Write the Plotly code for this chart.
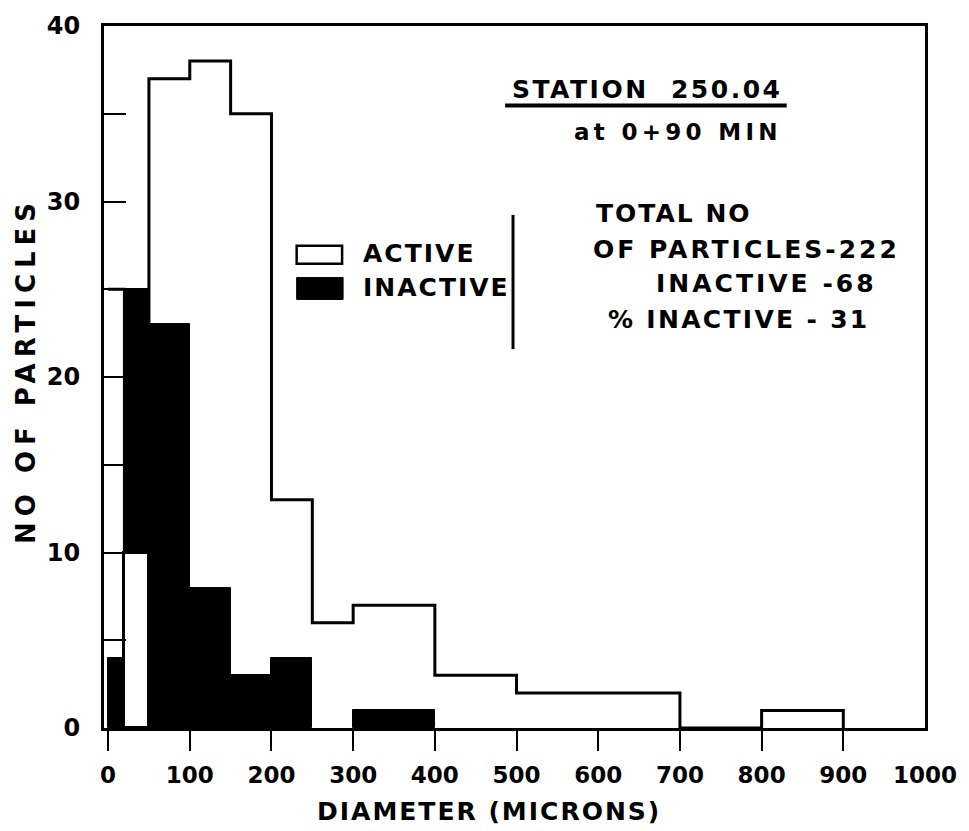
import plotly.graph_objects as go

# ---- data ----
bin_edges = [0, 20, 50, 100, 150, 200, 250, 300, 400, 500, 700, 800, 900]
active = [25, 10, 37, 38, 35, 13, 6, 7, 3, 2, 0, 1]
inactive = [4, 25, 23, 8, 3, 4, 0, 1, 0, 0, 0, 0]
x_tick_vals = [0, 100, 200, 300, 400, 500, 600, 700, 800, 900, 1000]
x_tick_text = ["0", "100", "200", "300", "400", "500", "600", "700", "800", "900", "1000"]
x_tick_marks = [0, 100, 200, 300, 400, 500, 600, 700, 800, 900]
y_tick_vals = [0, 10, 20, 30, 40]
y_tick_text = ["0", "10", "20", "30", "40"]
legend_names = ["ACTIVE", "INACTIVE"]
station_title = "STATION  250.04"
station_sub = "at 0+90 MIN"
stats_lines = ["TOTAL NO", "OF PARTICLES-222", "INACTIVE -68", "% INACTIVE - 31"]
x_title = "DIAMETER (MICRONS)"
y_title = "NO OF PARTICLES"

# ---- layout geometry ----
W, H = 969, 831
ML, MR, MT, MB = 104, 34, 22, 103
PW, PH = W - ML - MR, H - MT - MB
FONT = "DejaVu Sans"


def px(x):
    return (x - ML) / PW


def py(y):
    return (H - MB - y) / PH


centers = [(a + b) / 2 for a, b in zip(bin_edges[:-1], bin_edges[1:])]
widths = [b - a for a, b in zip(bin_edges[:-1], bin_edges[1:])]

fig = go.Figure()

# inactive bars (solid black)
ic = [c for c, v in zip(centers, inactive) if v > 0]
iw = [w for w, v in zip(widths, inactive) if v > 0]
iv = [v for v in inactive if v > 0]
fig.add_trace(go.Bar(x=ic, y=iv, width=iw, marker=dict(color="black", line=dict(color="black", width=1)),
                     showlegend=False, hoverinfo="skip"))

# active bars shorter than the inactive ones are drawn in front of them
fc = [c for c, a, i in zip(centers, active, inactive) if 0 < a < i]
fw = [w for w, a, i in zip(widths, active, inactive) if 0 < a < i]
fv = [a for a, i in zip(active, inactive) if 0 < a < i]
fig.add_trace(go.Bar(x=fc, y=fv, width=fw, marker=dict(color="white", line=dict(color="black", width=3)),
                     showlegend=False, hoverinfo="skip"))

# active histogram outline (step)
fig.add_trace(go.Scatter(
    x=bin_edges, y=active + [0],
    mode="lines", line=dict(shape="hv", color="black", width=3),
    showlegend=False, hoverinfo="skip"))

shapes = [
    dict(type="line", xref="paper", yref="paper", x0=px(510), x1=px(795), y0=py(102), y1=py(102),
         line=dict(color="black", width=4)),
    dict(type="rect", xref="paper", yref="paper", x0=px(299), x1=px(345), y0=py(243), y1=py(261),
         line=dict(color="black", width=2.5), fillcolor="white"),
    dict(type="rect", xref="paper", yref="paper", x0=px(299), x1=px(346), y0=py(275), y1=py(297),
         line=dict(color="black", width=1), fillcolor="black"),
    dict(type="line", xref="paper", yref="paper", x0=px(518), x1=px(518), y0=py(212), y1=py(347),
         line=dict(color="black", width=3)),
]

ann = []


def text(t, x, y, size=25, anchor="left", angle=0, spacing=2):
    ann.append(dict(text='<span style="letter-spacing:%spx">%s</span>' % (spacing, t),
                    xref="paper", yref="paper", x=px(x), y=py(y), xanchor=anchor,
                    yanchor="middle", showarrow=False, textangle=angle,
                    font=dict(family=FONT, size=size, color="black", weight="bold")))


text(station_title, 515, 86, size=25, spacing=2.5)
text(station_sub, 578, 129, size=23, spacing=4.3)
text(legend_names[0], 364, 251, size=25, spacing=2)
text(legend_names[1], 364, 285, size=25, spacing=2)
text(stats_lines[0], 600, 211, size=25, spacing=2)
text(stats_lines[1], 597, 247, size=25, spacing=3)
text(stats_lines[2], 661, 281, size=25, spacing=3)
text(stats_lines[3], 612, 317, size=25, spacing=2.3)
text(x_title, 494, 812, size=25, anchor="center", spacing=2)
text(y_title, 25, 368, size=26, anchor="center", angle=-90, spacing=6)

fig.update_layout(
    width=W, height=H,
    margin=dict(l=ML, r=MR, t=MT, b=MB),
    paper_bgcolor="white", plot_bgcolor="white",
    barmode="overlay", bargap=0,
    shapes=shapes, annotations=ann,
    font=dict(family=FONT, color="black"),
)
fig.update_xaxes(range=[-5, 1000], showline=True, mirror=True, linecolor="black", linewidth=3,
                 showgrid=False, zeroline=False, tickvals=x_tick_vals, ticktext=x_tick_text,
                 ticks="", ticklabelstandoff=24,
                 minor=dict(ticks="outside", tickvals=x_tick_marks, ticklen=20, tickwidth=2,
                            tickcolor="black", showgrid=False),
                 tickfont=dict(family=FONT, size=23, color="black", weight="bold"))
fig.update_yaxes(range=[0, 40], showline=True, mirror=True, linecolor="black", linewidth=3,
                 showgrid=False, zeroline=False, tickvals=y_tick_vals, ticktext=y_tick_text,
                 ticks="inside", ticklen=22, tickwidth=2, tickcolor="black",
                 minor=dict(ticks="inside", dtick=5, ticklen=22, tickwidth=2, tickcolor="black", showgrid=False),
                 ticklabelstandoff=16,
                 tickfont=dict(family=FONT, size=24, color="black", weight="bold"))

fig.write_html("out.html", config={"displayModeBar": False},
               post_script="document.body.style.margin='0px';")
